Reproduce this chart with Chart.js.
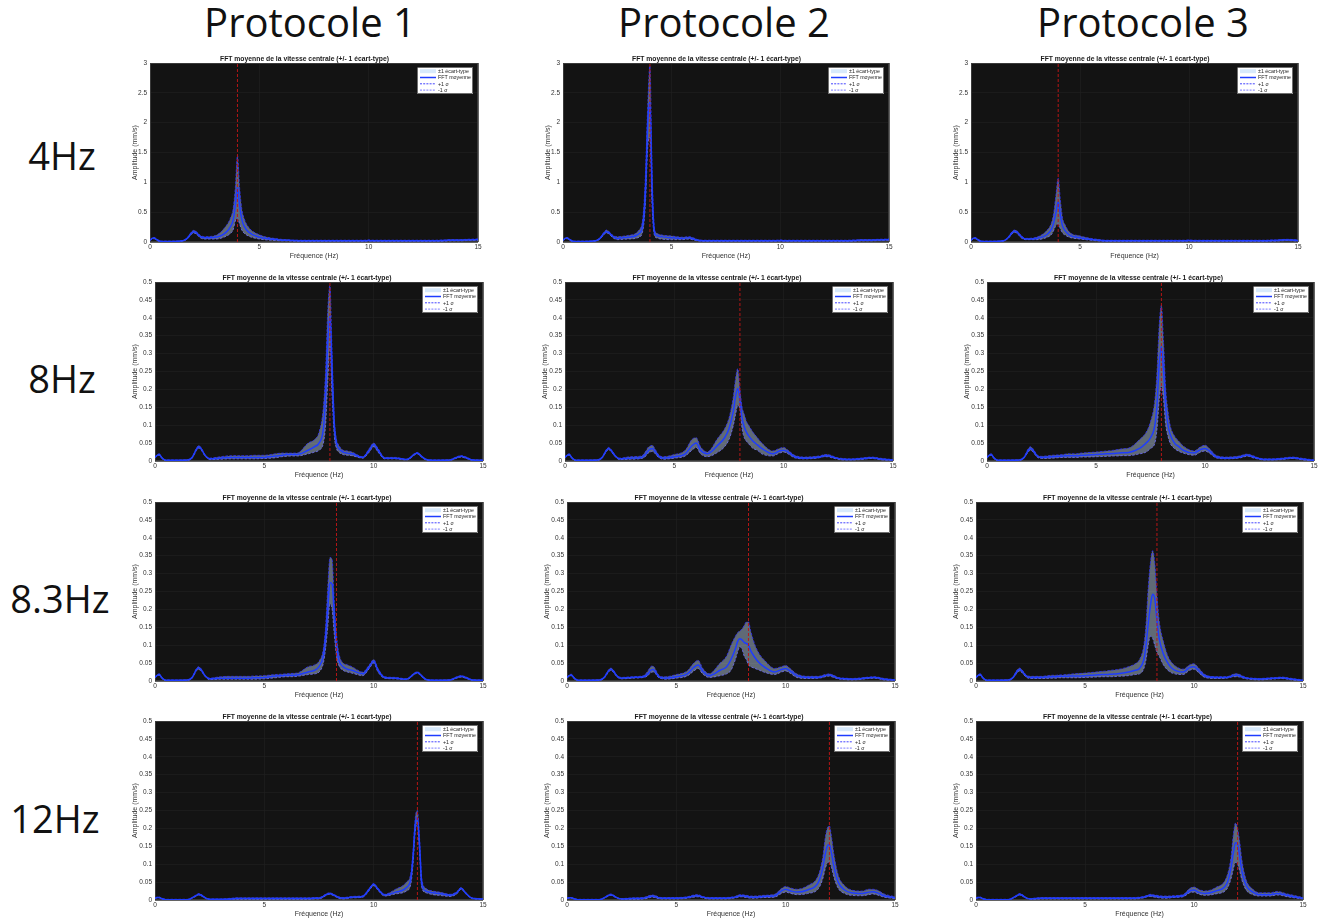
<!DOCTYPE html>
<html><head><meta charset="utf-8">
<script src="https://cdn.jsdelivr.net/npm/chart.js@4.4.1/dist/chart.umd.min.js"></script>
<style>
html,body{margin:0;padding:0;background:#fff;}
body{width:1323px;height:920px;overflow:hidden;position:relative;font-family:'Open Sans','Noto Sans',sans-serif;}
.hdr{position:absolute;font-size:40px;color:#111;transform:translate(-50%,-50%);white-space:nowrap;line-height:1;}
.rowlbl{position:absolute;font-size:38px;color:#111;transform:translate(-50%,-50%);white-space:nowrap;line-height:1;}
canvas{position:absolute;}
</style></head><body>
<script>
// ---------- DATA ----------
const freq = [0,0.1,0.2,0.3,0.5,1.0,1.5,1.7,1.9, 2.0,2.1,2.3,2.5,3.0,3.5,3.7,3.8,3.9, 4.0,4.1,4.2,4.3,4.5,5.0,5.5,5.8,6.0,6.2,6.5, 7.0,7.3,7.5,7.7,7.8,7.9,8.0,8.1,8.2,8.3,8.4,8.6,8.8, 9.0,9.5,9.8,10.0,10.2,10.5,11.0,11.5,11.7,11.8,11.9, 12.0,12.1,12.2,12.4,12.7,13.0,13.5,13.8,14.0,14.2,14.5,15.0];

const protocols = ['Protocole 1','Protocole 2','Protocole 3'];
const rowLabels = ['4Hz','8Hz','8.3Hz','12Hz'];
const excitation = [4, 8, 8.3, 12];
const yMaxByRow = [3, 0.5, 0.5, 0.5];
const yStepByRow = [0.5, 0.05, 0.05, 0.05];
const xTickStep = 5;
const panelTitle = 'FFT moyenne de la vitesse centrale (+/- 1 écart-type)';
const xAxisTitle = 'Fréquence (Hz)';
const yAxisTitle = 'Amplitude (mm/s)';
const legendLabels = ['±1 écart-type','FFT moyenne','+1 σ','-1 σ'];

// 4 Hz
const mean_4Hz_P1 = [0.03,0.06,0.065,0.04,0.01,0.01,0.02,0.06,0.15, 0.17,0.16,0.09,0.07,0.08,0.17,0.27,0.36,0.6, 0.92,0.6,0.38,0.27,0.17,0.08,0.05,0.04,0.03,0.03,0.025, 0.02,0.02,0.02,0.02,0.02,0.02,0.02,0.02,0.02,0.02,0.02,0.02,0.02, 0.02,0.02,0.02,0.025,0.02,0.02,0.02,0.02,0.02,0.02,0.02, 0.02,0.02,0.02,0.02,0.02,0.02,0.025,0.03,0.03,0.03,0.035,0.04];
const up_4Hz_P1 = [0.035,0.07,0.075,0.05,0.015,0.015,0.025,0.07,0.17, 0.195,0.18,0.11,0.09,0.11,0.28,0.42,0.55,0.9, 1.45,0.9,0.55,0.4,0.25,0.12,0.07,0.055,0.045,0.04,0.03, 0.03,0.03,0.03,0.03,0.03,0.03,0.03,0.03,0.03,0.03,0.03,0.03,0.03, 0.03,0.03,0.03,0.035,0.03,0.03,0.03,0.03,0.03,0.03,0.03, 0.03,0.03,0.03,0.03,0.03,0.03,0.035,0.04,0.04,0.04,0.045,0.05];
const lo_4Hz_P1 = [0.025,0.05,0.055,0.03,0.005,0.005,0.015,0.05,0.13, 0.15,0.14,0.07,0.05,0.05,0.1,0.15,0.2,0.35, 0.4,0.3,0.2,0.15,0.1,0.05,0.03,0.025,0.02,0.02,0.015, 0.012,0.012,0.012,0.012,0.012,0.012,0.012,0.012,0.012,0.012,0.012,0.012,0.012, 0.012,0.012,0.012,0.015,0.012,0.012,0.012,0.012,0.012,0.012,0.012, 0.012,0.012,0.012,0.012,0.012,0.012,0.015,0.02,0.02,0.02,0.025,0.03];

const mean_4Hz_P2 = [0.03,0.06,0.065,0.04,0.01,0.01,0.02,0.06,0.15, 0.17,0.16,0.09,0.06,0.08,0.14,0.35,0.9,2.0, 2.35,0.9,0.18,0.11,0.09,0.07,0.06,0.07,0.05,0.03,0.02, 0.02,0.02,0.02,0.02,0.02,0.02,0.02,0.02,0.02,0.02,0.02,0.02,0.02, 0.02,0.02,0.02,0.025,0.02,0.02,0.02,0.02,0.02,0.02,0.02, 0.02,0.02,0.02,0.02,0.02,0.02,0.025,0.03,0.03,0.03,0.035,0.04];
const up_4Hz_P2 = [0.035,0.07,0.075,0.05,0.015,0.015,0.025,0.07,0.17, 0.2,0.18,0.11,0.09,0.11,0.2,0.5,1.2,2.3, 2.95,1.2,0.25,0.15,0.12,0.1,0.08,0.09,0.07,0.04,0.03, 0.03,0.03,0.03,0.03,0.03,0.03,0.03,0.03,0.03,0.03,0.03,0.03,0.03, 0.03,0.03,0.03,0.035,0.03,0.03,0.03,0.03,0.03,0.03,0.03, 0.03,0.03,0.03,0.03,0.03,0.03,0.035,0.04,0.04,0.04,0.045,0.05];
const lo_4Hz_P2 = [0.025,0.05,0.055,0.03,0.005,0.005,0.015,0.05,0.13, 0.15,0.14,0.07,0.04,0.05,0.08,0.25,0.7,1.6, 1.75,0.6,0.12,0.07,0.05,0.04,0.04,0.05,0.035,0.02,0.012, 0.012,0.012,0.012,0.012,0.012,0.012,0.012,0.012,0.012,0.012,0.012,0.012,0.012, 0.012,0.012,0.012,0.015,0.012,0.012,0.012,0.012,0.012,0.012,0.012, 0.012,0.012,0.012,0.012,0.012,0.012,0.015,0.02,0.02,0.02,0.025,0.03];

const mean_4Hz_P3 = [0.03,0.06,0.065,0.04,0.01,0.01,0.02,0.07,0.16, 0.18,0.17,0.09,0.05,0.06,0.13,0.22,0.33,0.5, 0.68,0.45,0.27,0.2,0.12,0.07,0.04,0.03,0.025,0.02,0.02, 0.02,0.02,0.02,0.02,0.02,0.02,0.02,0.02,0.02,0.02,0.02,0.02,0.02, 0.02,0.02,0.02,0.025,0.02,0.02,0.02,0.02,0.02,0.02,0.02, 0.02,0.02,0.02,0.02,0.02,0.02,0.02,0.025,0.025,0.03,0.035,0.025];
const up_4Hz_P3 = [0.035,0.07,0.075,0.05,0.015,0.015,0.025,0.08,0.18, 0.2,0.19,0.11,0.06,0.08,0.2,0.33,0.5,0.8, 1.07,0.7,0.4,0.3,0.17,0.1,0.06,0.045,0.035,0.03,0.03, 0.03,0.03,0.03,0.03,0.03,0.03,0.03,0.03,0.03,0.03,0.03,0.03,0.03, 0.03,0.03,0.03,0.035,0.03,0.03,0.03,0.03,0.03,0.03,0.03, 0.03,0.03,0.03,0.03,0.03,0.03,0.03,0.035,0.035,0.04,0.045,0.035];
const lo_4Hz_P3 = [0.025,0.05,0.055,0.03,0.005,0.005,0.015,0.06,0.14, 0.16,0.15,0.07,0.04,0.04,0.08,0.13,0.2,0.28, 0.3,0.22,0.15,0.12,0.08,0.05,0.03,0.02,0.015,0.012,0.012, 0.012,0.012,0.012,0.012,0.012,0.012,0.012,0.012,0.012,0.012,0.012,0.012,0.012, 0.012,0.012,0.012,0.015,0.012,0.012,0.012,0.012,0.012,0.012,0.012, 0.012,0.012,0.012,0.012,0.012,0.012,0.012,0.015,0.015,0.02,0.025,0.015];

// 8 Hz
const mean_8Hz_P1 = [0.01,0.016,0.018,0.01,0.002,0.002,0.003,0.01,0.033, 0.04,0.035,0.015,0.006,0.008,0.01,0.01,0.01,0.01, 0.01,0.01,0.01,0.01,0.01,0.01,0.014,0.016,0.018,0.018,0.018, 0.03,0.04,0.05,0.09,0.18,0.33,0.405,0.25,0.1,0.05,0.035,0.025,0.022, 0.02,0.01,0.03,0.046,0.03,0.008,0.008,0.004,0.01,0.016,0.02, 0.022,0.018,0.012,0.004,0.002,0.002,0.003,0.01,0.013,0.01,0.003,0.002];
const up_8Hz_P1 = [0.011,0.018,0.02,0.012,0.003,0.003,0.004,0.012,0.036, 0.043,0.038,0.017,0.008,0.012,0.015,0.015,0.015,0.015, 0.015,0.015,0.015,0.015,0.016,0.016,0.02,0.022,0.022,0.022,0.022, 0.05,0.06,0.08,0.15,0.25,0.42,0.49,0.3,0.12,0.06,0.045,0.03,0.028, 0.025,0.012,0.035,0.05,0.035,0.01,0.01,0.005,0.012,0.018,0.022, 0.024,0.02,0.014,0.005,0.003,0.003,0.004,0.012,0.015,0.012,0.004,0.003];
const lo_8Hz_P1 = [0.009,0.014,0.016,0.008,0.001,0.001,0.002,0.008,0.03, 0.036,0.032,0.013,0.004,0.005,0.006,0.006,0.006,0.006, 0.006,0.006,0.006,0.006,0.006,0.007,0.009,0.012,0.013,0.014,0.014, 0.02,0.025,0.03,0.05,0.1,0.22,0.32,0.18,0.07,0.035,0.025,0.018,0.016, 0.015,0.008,0.025,0.04,0.025,0.006,0.006,0.003,0.008,0.014,0.018, 0.02,0.016,0.01,0.003,0.001,0.001,0.002,0.008,0.011,0.008,0.002,0.001];

const mean_8Hz_P2 = [0.01,0.016,0.018,0.01,0.002,0.002,0.003,0.01,0.03, 0.035,0.03,0.014,0.006,0.008,0.01,0.02,0.028,0.033, 0.035,0.028,0.02,0.012,0.008,0.012,0.02,0.042,0.05,0.03,0.02, 0.045,0.065,0.09,0.14,0.18,0.203,0.17,0.12,0.095,0.08,0.07,0.055,0.045, 0.035,0.02,0.028,0.03,0.025,0.012,0.008,0.01,0.012,0.014,0.015, 0.015,0.014,0.012,0.008,0.005,0.004,0.006,0.008,0.009,0.008,0.005,0.003];
const up_8Hz_P2 = [0.011,0.018,0.02,0.012,0.003,0.003,0.004,0.012,0.033, 0.038,0.033,0.016,0.008,0.012,0.014,0.028,0.038,0.042, 0.044,0.035,0.025,0.016,0.012,0.018,0.03,0.06,0.065,0.04,0.025, 0.065,0.09,0.12,0.18,0.23,0.258,0.2,0.15,0.13,0.11,0.1,0.08,0.065, 0.05,0.028,0.035,0.038,0.03,0.016,0.011,0.013,0.015,0.017,0.018, 0.018,0.017,0.015,0.01,0.007,0.006,0.008,0.01,0.011,0.01,0.007,0.004];
const lo_8Hz_P2 = [0.009,0.014,0.016,0.008,0.001,0.001,0.002,0.008,0.027, 0.032,0.027,0.012,0.004,0.005,0.007,0.014,0.022,0.025, 0.027,0.022,0.015,0.009,0.005,0.008,0.014,0.03,0.038,0.02,0.012, 0.025,0.04,0.06,0.1,0.13,0.155,0.145,0.09,0.065,0.055,0.048,0.035,0.03, 0.02,0.014,0.022,0.025,0.02,0.009,0.006,0.008,0.01,0.012,0.012, 0.012,0.011,0.009,0.006,0.003,0.003,0.004,0.006,0.007,0.006,0.003,0.002];

const mean_8Hz_P3 = [0.01,0.016,0.018,0.01,0.002,0.002,0.003,0.01,0.03, 0.035,0.03,0.014,0.01,0.012,0.014,0.015,0.015,0.015, 0.015,0.015,0.015,0.016,0.016,0.018,0.02,0.021,0.022,0.023,0.024, 0.035,0.05,0.065,0.1,0.16,0.27,0.32,0.25,0.15,0.1,0.075,0.05,0.04, 0.03,0.022,0.032,0.035,0.028,0.012,0.008,0.01,0.013,0.015,0.016, 0.016,0.014,0.012,0.008,0.004,0.004,0.006,0.008,0.009,0.008,0.005,0.002];
const up_8Hz_P3 = [0.011,0.018,0.02,0.012,0.003,0.003,0.004,0.012,0.035, 0.04,0.035,0.017,0.013,0.016,0.018,0.02,0.02,0.02, 0.02,0.02,0.021,0.022,0.023,0.025,0.028,0.03,0.032,0.034,0.036, 0.06,0.08,0.11,0.17,0.25,0.38,0.435,0.33,0.2,0.14,0.1,0.07,0.055, 0.042,0.028,0.04,0.044,0.035,0.016,0.011,0.013,0.016,0.018,0.019, 0.019,0.017,0.015,0.01,0.006,0.006,0.008,0.01,0.011,0.01,0.007,0.003];
const lo_8Hz_P3 = [0.009,0.014,0.016,0.008,0.001,0.001,0.002,0.008,0.026, 0.03,0.026,0.011,0.007,0.008,0.01,0.01,0.01,0.01, 0.01,0.01,0.01,0.011,0.011,0.012,0.013,0.014,0.014,0.015,0.015, 0.02,0.025,0.035,0.05,0.09,0.17,0.21,0.17,0.1,0.07,0.05,0.035,0.027, 0.022,0.016,0.025,0.028,0.022,0.009,0.006,0.008,0.01,0.012,0.013, 0.013,0.011,0.009,0.006,0.003,0.003,0.004,0.006,0.007,0.006,0.003,0.001];

// 8.3 Hz
const mean_8_3Hz_P1 = [0.01,0.016,0.018,0.01,0.002,0.002,0.003,0.01,0.032, 0.036,0.032,0.014,0.006,0.008,0.008,0.008,0.008,0.008, 0.008,0.008,0.008,0.008,0.009,0.01,0.014,0.015,0.016,0.016,0.017, 0.025,0.03,0.04,0.07,0.12,0.2,0.275,0.27,0.18,0.1,0.06,0.04,0.033, 0.03,0.02,0.04,0.055,0.03,0.01,0.008,0.005,0.012,0.018,0.022, 0.024,0.02,0.014,0.004,0.002,0.002,0.003,0.01,0.013,0.01,0.003,0.002];
const up_8_3Hz_P1 = [0.011,0.018,0.02,0.012,0.003,0.003,0.004,0.012,0.035, 0.04,0.035,0.016,0.008,0.012,0.013,0.013,0.013,0.013, 0.013,0.013,0.013,0.013,0.014,0.015,0.018,0.019,0.02,0.021,0.022, 0.04,0.045,0.055,0.09,0.15,0.26,0.345,0.34,0.22,0.13,0.08,0.05,0.045, 0.04,0.025,0.045,0.06,0.035,0.012,0.01,0.006,0.014,0.02,0.024, 0.026,0.022,0.016,0.005,0.003,0.003,0.004,0.012,0.015,0.012,0.004,0.003];
const lo_8_3Hz_P1 = [0.009,0.014,0.016,0.008,0.001,0.001,0.002,0.008,0.029, 0.032,0.029,0.012,0.004,0.005,0.005,0.005,0.005,0.005, 0.005,0.005,0.005,0.005,0.005,0.006,0.009,0.011,0.012,0.012,0.013, 0.018,0.02,0.025,0.05,0.09,0.15,0.215,0.2,0.13,0.07,0.045,0.03,0.025, 0.022,0.015,0.035,0.05,0.025,0.008,0.006,0.004,0.01,0.016,0.02, 0.022,0.018,0.012,0.003,0.001,0.001,0.002,0.008,0.011,0.008,0.002,0.001];

const mean_8_3Hz_P2 = [0.01,0.015,0.017,0.01,0.002,0.002,0.003,0.01,0.028, 0.033,0.029,0.013,0.008,0.01,0.012,0.02,0.028,0.032, 0.03,0.02,0.012,0.009,0.008,0.012,0.02,0.038,0.045,0.028,0.015, 0.03,0.04,0.06,0.09,0.11,0.118,0.115,0.108,0.105,0.1,0.085,0.065,0.05, 0.04,0.025,0.032,0.035,0.028,0.015,0.01,0.01,0.013,0.015,0.016, 0.017,0.015,0.013,0.008,0.006,0.005,0.007,0.009,0.01,0.009,0.005,0.003];
const up_8_3Hz_P2 = [0.011,0.017,0.019,0.012,0.003,0.003,0.004,0.012,0.031, 0.036,0.032,0.015,0.01,0.012,0.015,0.028,0.038,0.042, 0.038,0.026,0.016,0.012,0.012,0.018,0.028,0.05,0.058,0.036,0.02, 0.05,0.07,0.1,0.125,0.135,0.14,0.145,0.155,0.165,0.165,0.14,0.1,0.075, 0.06,0.035,0.04,0.043,0.035,0.02,0.013,0.013,0.016,0.018,0.019, 0.02,0.018,0.016,0.01,0.008,0.007,0.009,0.011,0.012,0.011,0.007,0.004];
const lo_8_3Hz_P2 = [0.009,0.013,0.015,0.008,0.001,0.001,0.002,0.008,0.025, 0.03,0.026,0.011,0.006,0.008,0.01,0.015,0.022,0.025, 0.024,0.016,0.009,0.007,0.005,0.008,0.014,0.028,0.035,0.02,0.01, 0.015,0.02,0.03,0.06,0.08,0.095,0.09,0.07,0.06,0.045,0.04,0.035,0.03, 0.025,0.018,0.025,0.028,0.022,0.01,0.007,0.008,0.01,0.012,0.013, 0.014,0.012,0.01,0.006,0.004,0.003,0.005,0.007,0.008,0.007,0.003,0.002];

const mean_8_3Hz_P3 = [0.01,0.016,0.018,0.01,0.002,0.002,0.003,0.01,0.028, 0.032,0.028,0.014,0.01,0.01,0.012,0.012,0.013,0.013, 0.013,0.013,0.013,0.014,0.014,0.015,0.017,0.018,0.018,0.019,0.02, 0.025,0.03,0.035,0.06,0.1,0.16,0.21,0.242,0.23,0.17,0.12,0.075,0.05, 0.035,0.025,0.038,0.04,0.03,0.014,0.01,0.01,0.013,0.015,0.016, 0.016,0.014,0.012,0.008,0.006,0.005,0.007,0.008,0.009,0.008,0.005,0.002];
const up_8_3Hz_P3 = [0.011,0.018,0.02,0.012,0.003,0.003,0.004,0.012,0.032, 0.036,0.032,0.017,0.013,0.013,0.016,0.016,0.017,0.017, 0.017,0.018,0.018,0.019,0.02,0.022,0.025,0.027,0.028,0.03,0.032, 0.04,0.048,0.06,0.1,0.16,0.26,0.33,0.364,0.33,0.24,0.17,0.11,0.07, 0.05,0.033,0.045,0.048,0.037,0.018,0.012,0.012,0.016,0.019,0.02, 0.02,0.018,0.015,0.01,0.008,0.007,0.009,0.01,0.011,0.01,0.007,0.003];
const lo_8_3Hz_P3 = [0.009,0.014,0.016,0.008,0.001,0.001,0.002,0.008,0.024, 0.028,0.024,0.011,0.007,0.007,0.008,0.008,0.009,0.009, 0.009,0.009,0.009,0.009,0.009,0.01,0.011,0.012,0.012,0.012,0.013, 0.015,0.018,0.02,0.035,0.06,0.1,0.125,0.12,0.1,0.08,0.07,0.045,0.03, 0.022,0.018,0.03,0.033,0.024,0.01,0.007,0.008,0.011,0.012,0.012, 0.012,0.011,0.009,0.006,0.004,0.003,0.005,0.006,0.007,0.006,0.003,0.001];

// 12 Hz
const mean_12Hz_P1 = [0.005,0.007,0.007,0.004,0.001,0.001,0.001,0.006,0.013, 0.016,0.014,0.006,0.002,0.002,0.003,0.004,0.004,0.004, 0.004,0.004,0.004,0.004,0.004,0.004,0.004,0.004,0.004,0.004,0.004, 0.004,0.005,0.005,0.01,0.014,0.017,0.018,0.016,0.013,0.01,0.007,0.005,0.006, 0.008,0.01,0.03,0.044,0.03,0.014,0.022,0.035,0.06,0.12,0.21, 0.23,0.15,0.045,0.025,0.02,0.018,0.013,0.02,0.033,0.02,0.005,0.003];
const up_12Hz_P1 = [0.006,0.008,0.008,0.005,0.002,0.002,0.002,0.007,0.015, 0.018,0.016,0.007,0.003,0.003,0.005,0.006,0.006,0.006, 0.006,0.006,0.006,0.006,0.006,0.006,0.006,0.006,0.006,0.006,0.006, 0.006,0.007,0.007,0.012,0.016,0.019,0.02,0.018,0.015,0.012,0.009,0.007,0.008, 0.01,0.012,0.033,0.046,0.033,0.016,0.03,0.05,0.075,0.135,0.228, 0.25,0.17,0.06,0.032,0.025,0.022,0.016,0.023,0.035,0.022,0.006,0.004];
const lo_12Hz_P1 = [0.004,0.006,0.006,0.003,0.0,0.0,0.0,0.005,0.011, 0.014,0.012,0.005,0.001,0.001,0.002,0.002,0.002,0.002, 0.002,0.002,0.002,0.002,0.002,0.002,0.002,0.002,0.002,0.002,0.002, 0.002,0.003,0.003,0.008,0.012,0.015,0.016,0.014,0.011,0.008,0.005,0.003,0.004, 0.006,0.008,0.027,0.04,0.027,0.011,0.017,0.025,0.045,0.1,0.19, 0.215,0.13,0.035,0.02,0.015,0.013,0.01,0.017,0.03,0.018,0.004,0.002];

const mean_12Hz_P2 = [0.005,0.006,0.006,0.004,0.001,0.001,0.001,0.006,0.013, 0.015,0.013,0.006,0.003,0.004,0.005,0.008,0.01,0.011, 0.01,0.008,0.006,0.005,0.005,0.005,0.007,0.011,0.012,0.008,0.005, 0.005,0.005,0.006,0.008,0.01,0.012,0.012,0.011,0.01,0.009,0.008,0.008,0.009, 0.01,0.012,0.025,0.03,0.026,0.022,0.028,0.05,0.09,0.125,0.15, 0.155,0.13,0.095,0.05,0.028,0.02,0.018,0.022,0.023,0.02,0.012,0.006];
const up_12Hz_P2 = [0.006,0.007,0.007,0.005,0.002,0.002,0.002,0.007,0.015, 0.017,0.015,0.007,0.004,0.006,0.007,0.011,0.013,0.014, 0.013,0.011,0.008,0.007,0.007,0.007,0.009,0.014,0.015,0.01,0.007, 0.007,0.007,0.008,0.01,0.013,0.015,0.015,0.014,0.013,0.012,0.011,0.011,0.012, 0.013,0.016,0.032,0.038,0.034,0.03,0.04,0.07,0.12,0.17,0.2, 0.207,0.175,0.13,0.07,0.04,0.028,0.025,0.03,0.03,0.027,0.017,0.009];
const lo_12Hz_P2 = [0.004,0.005,0.005,0.003,0.0,0.0,0.0,0.005,0.011, 0.013,0.011,0.005,0.002,0.002,0.003,0.005,0.007,0.008, 0.007,0.005,0.004,0.003,0.003,0.003,0.005,0.008,0.009,0.006,0.003, 0.003,0.003,0.004,0.006,0.007,0.009,0.009,0.008,0.007,0.006,0.005,0.005,0.006, 0.007,0.008,0.018,0.022,0.019,0.015,0.018,0.032,0.06,0.085,0.103, 0.106,0.09,0.065,0.033,0.018,0.013,0.012,0.015,0.017,0.014,0.008,0.004];

const mean_12Hz_P3 = [0.005,0.007,0.007,0.004,0.001,0.001,0.001,0.006,0.013, 0.016,0.014,0.006,0.003,0.005,0.005,0.005,0.005,0.005, 0.005,0.005,0.005,0.005,0.005,0.005,0.005,0.005,0.005,0.005,0.005, 0.005,0.005,0.006,0.008,0.01,0.012,0.013,0.012,0.011,0.01,0.009,0.008,0.008, 0.009,0.012,0.025,0.028,0.022,0.018,0.025,0.045,0.09,0.13,0.16, 0.155,0.12,0.08,0.04,0.022,0.015,0.015,0.018,0.017,0.014,0.01,0.005];
const up_12Hz_P3 = [0.006,0.008,0.008,0.005,0.002,0.002,0.002,0.007,0.015, 0.018,0.016,0.007,0.004,0.007,0.007,0.007,0.007,0.007, 0.007,0.007,0.007,0.007,0.007,0.007,0.007,0.007,0.007,0.007,0.007, 0.007,0.007,0.008,0.01,0.012,0.014,0.016,0.015,0.014,0.013,0.012,0.011,0.011, 0.012,0.015,0.032,0.036,0.03,0.025,0.035,0.065,0.12,0.18,0.215, 0.2,0.16,0.11,0.055,0.03,0.02,0.02,0.024,0.022,0.018,0.014,0.007];
const lo_12Hz_P3 = [0.004,0.006,0.006,0.003,0.0,0.0,0.0,0.005,0.011, 0.014,0.012,0.005,0.002,0.003,0.003,0.003,0.003,0.003, 0.003,0.003,0.003,0.003,0.003,0.003,0.003,0.003,0.003,0.003,0.003, 0.003,0.003,0.004,0.006,0.008,0.01,0.01,0.009,0.008,0.007,0.006,0.005,0.005, 0.007,0.009,0.02,0.022,0.017,0.013,0.017,0.03,0.06,0.085,0.105, 0.1,0.08,0.055,0.027,0.015,0.011,0.011,0.014,0.013,0.01,0.007,0.003];

const seriesGrid = [
  [[mean_4Hz_P1,up_4Hz_P1,lo_4Hz_P1],[mean_4Hz_P2,up_4Hz_P2,lo_4Hz_P2],[mean_4Hz_P3,up_4Hz_P3,lo_4Hz_P3]],
  [[mean_8Hz_P1,up_8Hz_P1,lo_8Hz_P1],[mean_8Hz_P2,up_8Hz_P2,lo_8Hz_P2],[mean_8Hz_P3,up_8Hz_P3,lo_8Hz_P3]],
  [[mean_8_3Hz_P1,up_8_3Hz_P1,lo_8_3Hz_P1],[mean_8_3Hz_P2,up_8_3Hz_P2,lo_8_3Hz_P2],[mean_8_3Hz_P3,up_8_3Hz_P3,lo_8_3Hz_P3]],
  [[mean_12Hz_P1,up_12Hz_P1,lo_12Hz_P1],[mean_12Hz_P2,up_12Hz_P2,lo_12Hz_P2],[mean_12Hz_P3,up_12Hz_P3,lo_12Hz_P3]]
];

// ---------- LAYOUT (plot-area boxes: left, top, right, bottom) ----------
const plotBoxes = [
  [[150,63,478,242],[563,63,889,242],[971,63,1298,242]],
  [[155,282,483,461],[565,282,893,461],[987,282,1314,461]],
  [[155,502,483,681],[567,502,895,681],[976,502,1303,681]],
  [[155,721,483,900],[567,721,895,900],[976,721,1303,900]]
];
const colCenters = [310, 724, 1143];
const rowLabelPos = [[62,155],[62,378],[60,598],[55,818]];
const yAxisWidthByRow = [19, 24, 24, 24];
const TITLE_H = 13, XAXIS_H = 18, PAD_R = 6;
const FONT = "'Liberation Sans', Arial, Helvetica, sans-serif";

protocols.forEach((p,i)=>{
  const d=document.createElement('div'); d.className='hdr'; d.textContent=p;
  d.style.left=colCenters[i]+'px'; d.style.top='22px'; document.body.appendChild(d);
});
rowLabels.forEach((r,i)=>{
  const d=document.createElement('div'); d.className='rowlbl'; d.textContent=r;
  d.style.left=rowLabelPos[i][0]+'px'; d.style.top=rowLabelPos[i][1]+'px'; document.body.appendChild(d);
});

const bgPlugin = {
  id:'axesBg',
  beforeDraw(chart){
    const {ctx, chartArea:a} = chart;
    ctx.save(); ctx.fillStyle='#131313'; ctx.fillRect(a.left,a.top,a.right-a.left,a.bottom-a.top); ctx.restore();
  },
  beforeDatasetsDraw(chart){
    const {ctx, chartArea:a} = chart;
    ctx.save(); ctx.strokeStyle='#3a3a3a'; ctx.lineWidth=1;
    ctx.strokeRect(a.left+0.5,a.top+0.5,a.right-a.left-1,a.bottom-a.top-1); ctx.restore();
  }
};

const legendPlugin = {
  id:'matlabLegend',
  afterDatasetsDraw(chart, args, opts){
    const {ctx, chartArea:a} = chart;
    const ds = chart.data.datasets;
    const w=56, h=27, x=a.right-5-w, y=a.top+4;
    ctx.save();
    ctx.fillStyle='#fff'; ctx.fillRect(x,y,w,h);
    ctx.strokeStyle='#333'; ctx.lineWidth=0.7; ctx.strokeRect(x+0.5,y+0.5,w-1,h-1);
    ctx.font='5.3px '+FONT; ctx.textBaseline='middle'; ctx.textAlign='left';
    const labels = opts.labels;
    for(let i=0;i<labels.length;i++){
      const cy = y+4.2+i*6.3;
      if(i===0){
        ctx.fillStyle='#d7e9fb'; ctx.fillRect(x+3,cy-2,16,4);
      } else {
        const d = i===1 ? ds[2] : (i===2 ? ds[0] : ds[1]);
        ctx.strokeStyle=d.borderColor; ctx.lineWidth = i===1 ? 1.5 : 0.9;
        ctx.setLineDash(i===1 ? [] : [2,1.2]);
        ctx.beginPath(); ctx.moveTo(x+3,cy); ctx.lineTo(x+19,cy); ctx.stroke();
        ctx.setLineDash([]);
      }
      ctx.fillStyle='#222'; ctx.fillText(labels[i], x+21, cy+0.3);
    }
    ctx.restore();
  }
};

const fmt = v => String(+(+v).toFixed(2));

for(let r=0;r<4;r++){
  for(let c=0;c<3;c++){
    const [L,T,R,B] = plotBoxes[r][c];
    const YW = yAxisWidthByRow[r];
    const cv = document.createElement('canvas');
    const W = (R-L)+YW+PAD_R, H = (B-T)+TITLE_H+XAXIS_H;
    cv.width=W; cv.height=H;
    cv.style.left=(L-YW)+'px'; cv.style.top=(T-TITLE_H)+'px';
    cv.style.width=W+'px'; cv.style.height=H+'px';
    document.body.appendChild(cv);
    const [mean, up, lo] = seriesGrid[r][c];
    const toXY = arr => freq.map((f,i)=>({x:f, y:arr[i]}));
    const yMax = yMaxByRow[r];
    new Chart(cv, {
      type:'line',
      data:{datasets:[
        {label:'+1 σ', data:toXY(up), borderColor:'#2f2fff', borderWidth:0.8, borderDash:[2.5,1.5],
         fill:'+1', backgroundColor:'rgba(195,218,245,0.44)', cubicInterpolationMode:'monotone', order:3},
        {label:'-1 σ', data:toXY(lo), borderColor:'#6f6fff', borderWidth:0.8, borderDash:[2.5,1.5],
         fill:false, cubicInterpolationMode:'monotone', order:2},
        {label:'FFT moyenne', data:toXY(mean), borderColor:'#1e3cff', borderWidth:1.5,
         fill:false, cubicInterpolationMode:'monotone', order:1},
        {label:'excitation', data:[{x:excitation[r],y:0},{x:excitation[r],y:yMax}], borderColor:'rgba(190,22,22,0.95)',
         borderWidth:1, borderDash:[3,2], fill:false, order:0}
      ]},
      options:{
        responsive:false, animation:false, devicePixelRatio:1,
        layout:{padding:{left:0,top:0,right:PAD_R,bottom:0}},
        elements:{point:{radius:0,hoverRadius:0}},
        plugins:{
          legend:{display:false}, tooltip:{enabled:false},
          title:{display:true, text:panelTitle, color:'#1a1a1a',
            font:{family:FONT,size:6.8,weight:'bold',lineHeight:'8px'}, padding:{top:5,bottom:0}},
          matlabLegend:{labels:legendLabels}
        },
        scales:{
          x:{type:'linear', min:0, max:15,
            ticks:{stepSize:xTickStep, font:{family:FONT,size:6.5}, color:'#333', padding:1.5, maxRotation:0, autoSkip:false},
            grid:{color:'#1f1f1f', lineWidth:0.7, drawTicks:false}, border:{display:false},
            title:{display:true, text:xAxisTitle, color:'#333', font:{family:FONT,size:7}, padding:{top:0,bottom:0}},
            afterFit(s){ s.height = XAXIS_H; }
          },
          y:{type:'linear', min:0, max:yMax,
            ticks:{stepSize:yStepByRow[r], font:{family:FONT,size:6.5}, color:'#333', padding:3, callback:v=>fmt(v), autoSkip:false},
            grid:{color:'#1f1f1f', lineWidth:0.7, drawTicks:false}, border:{display:false},
            title:{display:true, text:yAxisTitle, color:'#333', font:{family:FONT,size:7}, padding:{top:0,bottom:0}},
            afterFit(s){ s.width = YW; }
          }
        }
      },
      plugins:[bgPlugin, legendPlugin]
    });
  }
}
</script>
</body></html>
